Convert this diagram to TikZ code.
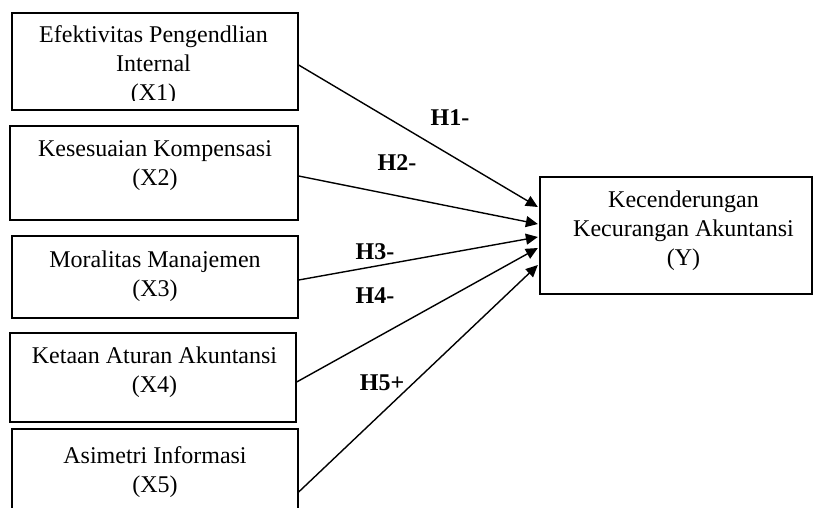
\documentclass[tikz,border=0pt]{standalone}
\usepackage{fontspec}
\setmainfont{Liberation Serif}
\usetikzlibrary{arrows.meta,calc}

\begin{document}
\begin{tikzpicture}[x=0.5pt,y=-0.5pt,
  kotak/.style={draw,line width=0.65pt,inner sep=0pt,minimum width=143pt},
  teks/.style={align=center,font=\fontsize{12}{14.5}\selectfont},
  hip/.style={font=\fontsize{12}{14.5}\selectfont\bfseries},
  panah/.style={-{Triangle[length=6pt,width=5.5pt]},line width=0.7pt}]
\useasboundingbox (0,0) rectangle (813,508);
\clip (0,0) rectangle (813,508);
%
\node[kotak,minimum height=48.5pt] (x1) at (155,61.5) {};
\node[kotak,minimum width=144pt,minimum height=47pt] (x2) at (154,173) {};
\node[kotak,minimum height=41pt] (x3) at (155,277) {};
\node[kotak,minimum height=44.5pt] (x4) at (153,377.5) {};
\node[kotak,minimum height=47.5pt] (x5) at (155,476.5) {};
\node[kotak,minimum width=136pt,minimum height=58.5pt] (y) at (676,235.5) {};
%
\begin{scope}
\clip (12,13) rectangle (298,101);
\node[teks] (t1) at (153.5,66) {Efektivitas Pengendlian\\Internal\\(X1)};
\end{scope}
\node[teks] (t2) at (155,166) {Kesesuaian Kompensasi\\(X2)};
\node[teks] (t3) at (155,276) {Moralitas Manajemen\\(X3)};
\node[teks] (t4) at (154.5,372) {Ketaan Aturan Akuntansi\\(X4)};
\node[teks] (t5) at (155,472) {Asimetri Informasi\\(X5)};
\node[teks] (ty) at (683.5,231) {Kecenderungan\\Kecurangan Akuntansi\\(Y)};
%
\draw[panah] ($(x1.east)+(0,3.5)$) -- ($(y.west)+(-1.5,-28.5)$);
\draw[panah] ($(x2.east)+(0,3)$) -- ($(y.west)+(-1.5,-11.5)$);
\draw[panah] ($(x3.east)+(0,3)$) -- ($(y.west)+(-1.5,1.5)$);
\draw[panah] ($(x4.east)+(0,4.5)$) -- ($(y.west)+(-1.5,12.5)$);
\draw[panah] ($(x5.east)+(0,15.5)$) -- ($(y.west)+(-1.5,29.5)$);
%
\node[hip] (h1) at (450,118) {H1-};
\node[hip] (h2) at (397,163) {H2-};
\node[hip] (h3) at (375,252) {H3-};
\node[hip] (h4) at (375,296) {H4-};
\node[hip] (h5) at (382,383) {H5+};
\end{tikzpicture}
\end{document}
